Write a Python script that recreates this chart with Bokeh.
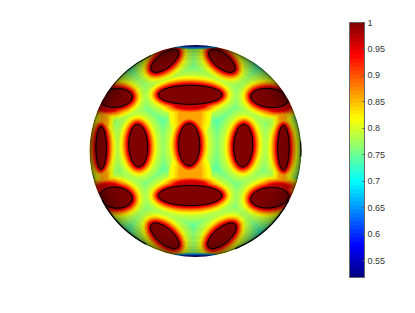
import numpy as np
from bokeh.plotting import figure
from bokeh.models import ColorBar, LinearColorMapper, FixedTicker, Range1d
from bokeh.embed import file_html
from bokeh.resources import INLINE

# colour scale
v_min, v_max = 0.518, 1.0
tick_values = [0.55, 0.6, 0.65, 0.7, 0.75, 0.8, 0.85, 0.9, 0.95, 1.0]
tick_labels = ["0.55", "0.6", "0.65", "0.7", "0.75", "0.8", "0.85", "0.9", "0.95", "1"]

# spots: centre and semi-axes in units of the sphere radius, tilt in degrees
spot_x = [-0.06, -0.54, 0.45, -0.89, 0.83, -0.05, -0.75, 0.70, -0.05, -0.75, 0.70, -0.29, 0.25, -0.29, 0.25]
spot_y = [0.06, 0.05, 0.05, 0.03, 0.03, 0.53, 0.50, 0.50, -0.42, -0.44, -0.44, 0.85, 0.85, -0.80, -0.80]
spot_a = [0.10, 0.09, 0.09, 0.05, 0.055, 0.30, 0.155, 0.18, 0.30, 0.155, 0.18, 0.155, 0.15, 0.165, 0.165]
spot_b = [0.20, 0.20, 0.20, 0.20, 0.21, 0.09, 0.088, 0.09, 0.095, 0.10, 0.097, 0.07, 0.07, 0.075, 0.075]
spot_tilt = [0, 2, -2, 0, 0, 0, 6, -6, 0, -6, 6, 37, -39, -40, 40]

# necks: the saddle between two neighbouring spots
bridge_x = [-0.05, -0.05, -0.86, 0.82, -0.86, 0.82]
bridge_y = [0.35, -0.23, 0.33, 0.33, -0.255, -0.255]
bridge_b = [0.26, 0.26, 0.20, 0.20, 0.20, 0.20]
bridge_gain = [3.2, 3.2, 1.8, 1.8, 1.8, 1.8]
bridge_low, bridge_high = 0.805, 0.875

# flares: where a horizontal spot's halo swells towards its neighbour
flare_x = [-0.05, -0.05, -0.82, 0.78, -0.82, 0.78]
flare_y = [0.44, -0.325, 0.41, 0.41, -0.34, -0.34]
flare_a = [0.12, 0.12, 0.06, 0.07, 0.06, 0.07]
flare_b = [0.03, 0.03, 0.02, 0.02, 0.02, 0.02]
flare_high = 0.97

# low-lying teal patches (value, centre, semi-axes)
patch_value = [0.705, 0.705, 0.715, 0.715, 0.715, 0.715]
patch_x = [-0.01, -0.01, -0.62, 0.60, -0.62, 0.58]
patch_y = [0.80, -0.78, 0.76, 0.76, -0.72, -0.72]
patch_a = [0.14, 0.15, 0.14, 0.14, 0.15, 0.15]
patch_b = [0.13, 0.12, 0.13, 0.13, 0.13, 0.13]

# field levels and how far each reaches beyond a spot's outline (sphere radii)
level_value = [0.7375, 0.7438, 0.75, 0.7563, 0.7625, 0.7688, 0.775, 0.7813, 0.7875, 0.80, 0.8125, 0.825,
               0.8375, 0.85, 0.8625, 0.875, 0.8875, 0.90, 0.9125, 0.925, 0.9375, 0.95, 0.9625, 0.975, 0.9875]
level_reach = [0.22, 0.205, 0.19, 0.177, 0.165, 0.152, 0.14, 0.127, 0.115, 0.095, 0.082, 0.072,
               0.065, 0.058, 0.052, 0.046, 0.04, 0.035, 0.03, 0.026, 0.022, 0.018, 0.014, 0.01, 0.005]
base_value = 0.733

# polar caps (value, half width, half height)
cap_value = [0.52, 0.58, 0.63, 0.67]
cap_a = [0.10, 0.16, 0.22, 0.28]
cap_b = [0.008, 0.016, 0.024, 0.035]

# edge shading: inner radius, alpha
shade_r = [0.72, 0.80, 0.86, 0.90, 0.93, 0.96, 0.98, 0.99]
shade_a = [0.03, 0.04, 0.05, 0.07, 0.09, 0.12, 0.2, 0.3]

# dark rim crescents: start and end angle (degrees), width
rim_start = [-68, -152, 115, -3]
rim_end = [-28, -118, 148, 5]
rim_width = [1.4, 1.4, 0.8, 1.2]


def jet(v):
    t = np.clip((np.asarray(v, dtype=float) - v_min) / (v_max - v_min), 0, 1)
    r = np.clip(np.minimum(4 * t - 1.5, -4 * t + 4.5), 0, 1)
    g = np.clip(np.minimum(4 * t - 0.5, -4 * t + 3.5), 0, 1)
    b = np.clip(np.minimum(4 * t + 0.5, -4 * t + 2.5), 0, 1)
    return "#%02x%02x%02x" % (int(r * 255), int(g * 255), int(b * 255))


palette = [jet(v_min + (i + 0.5) * (v_max - v_min) / 64) for i in range(64)]

R = 106.0
cx, cy = 195.0, 150.5
W, H = 399, 297
p = figure(width=W, height=H, output_backend="svg", toolbar_location=None,
           x_range=Range1d((0 - cx) / R, (W - cx) / R),
           y_range=Range1d((cy - H) / R, cy / R),
           min_border=0, outline_line_color=None, background_fill_color="white")
p.axis.visible = False
p.grid.visible = False

p.circle([0], [0], radius=1.0, fill_color=jet(base_value), line_color=None)

for v, x, y, a, b in zip(patch_value, patch_x, patch_y, patch_a, patch_b):
    p.ellipse([x], [y], width=2 * a, height=2 * b, fill_color=jet(v), line_color=None)

sx, sy = np.array(spot_x), np.array(spot_y)
sa, sb, st = np.array(spot_a), np.array(spot_b), np.radians(spot_tilt)
bx, by = np.array(bridge_x), np.array(bridge_y)
bb, bg = np.array(bridge_b), np.array(bridge_gain)
fx, fy = np.array(flare_x), np.array(flare_y)
fa, fb = np.array(flare_a), np.array(flare_b)

for v, d in zip(level_value, level_reach):
    c = jet(v)
    w = bg * d - 0.06
    keep = (w > 0) & (v > bridge_low) & (v < bridge_high)
    if keep.any():
        p.ellipse(bx[keep], by[keep], width=2 * w[keep], height=2 * bb[keep],
                  angle=0, fill_color=c, line_color=None)
    if bridge_low < v < flare_high:
        p.ellipse(fx, fy, width=2 * (fa + 2 * d), height=2 * (fb + d),
                  angle=0, fill_color=c, line_color=None)
    p.ellipse(sx, sy, width=2 * (sa + d), height=2 * (sb + d), angle=st, fill_color=c, line_color=None)

p.ellipse(sx, sy, width=2 * sa, height=2 * sb, angle=st, fill_color="#800000", line_color="black", line_width=1.0)

for v, a, b in zip(cap_value[::-1], cap_a[::-1], cap_b[::-1]):
    p.ellipse([0, 0], [1.0, -1.0], width=2 * a, height=2 * b, fill_color=jet(v), line_color=None)

for r0, al in zip(shade_r, shade_a):
    p.annulus([0], [0], inner_radius=r0, outer_radius=1.0, fill_color="black", fill_alpha=al, line_color=None)

# everything outside the sphere stays blank
p.annulus([0], [0], inner_radius=1.0, outer_radius=4.0, fill_color="white", line_color=None)

for a0, a1, lw in zip(rim_start, rim_end, rim_width):
    p.arc([0], [0], radius=0.995, start_angle=np.radians(a0), end_angle=np.radians(a1),
          line_color="black", line_width=lw)

mapper = LinearColorMapper(palette=palette, low=v_min, high=v_max)
cb = ColorBar(color_mapper=mapper, width=15, height=255, location=(349, 20), padding=0, margin=0,
              ticker=FixedTicker(ticks=tick_values),
              major_label_overrides={v: s for v, s in zip(tick_values, tick_labels)},
              major_label_text_font="Liberation Sans", major_label_text_font_size="9px",
              major_label_text_color="#333333", label_standoff=3,
              major_tick_line_color="#555555", major_tick_in=2, major_tick_out=0,
              minor_tick_line_color=None, bar_line_color="#666666", border_line_color=None,
              background_fill_color=None, title=None)
p.add_layout(cb, "center")

open("out.html", "w").write(file_html(p, INLINE))
